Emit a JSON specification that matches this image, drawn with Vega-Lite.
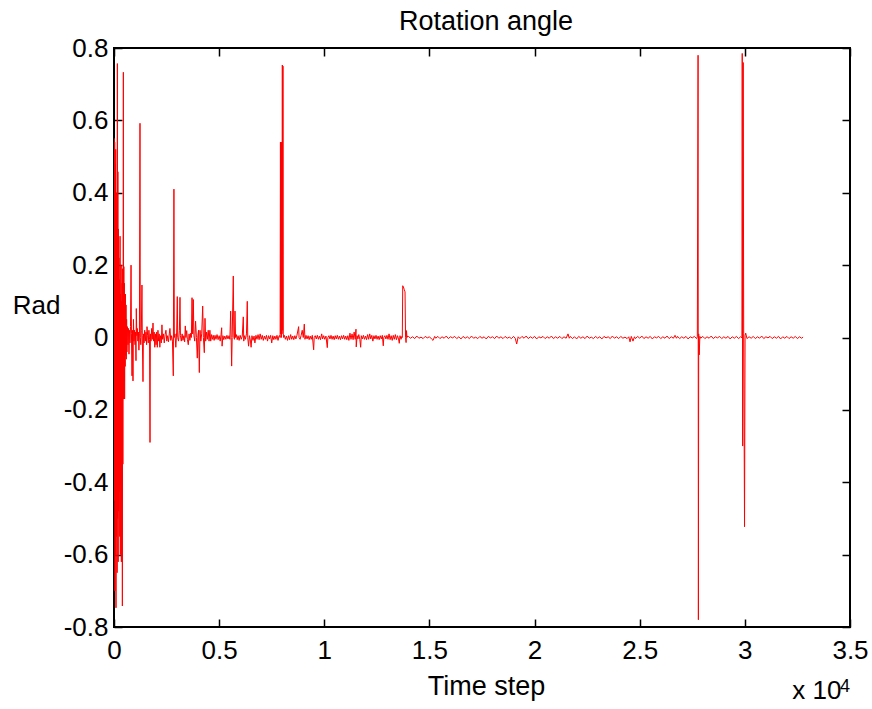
{
"$schema": "https://vega.github.io/schema/vega-lite/v6.json",
"width": 736, "height": 579,
"autosize": {"type": "none"},
"padding": {"left": 114, "top": 48, "right": 22, "bottom": 82},
"background": "white",
"config": {
  "view": {"stroke": "black", "strokeWidth": 2},
  "axis": {"domain": false, "tickColor": "black", "tickWidth": 1.5, "grid": false, "labelFont": "Liberation Sans", "labelFontSize": 26, "labelColor": "black", "titleFont": "Liberation Sans", "titleFontSize": 26, "titleFontWeight": "normal", "titleColor": "black"},
  "text": {"font": "Liberation Sans"}
},
"data": {"values": [
{"t":0,"v":0},{"t":8,"v":0.55},{"t":20,"v":-0.45},{"t":32,"v":0.54},{"t":45,"v":-0.70},{"t":58,"v":0.48},{"t":70,"v":-0.60},{"t":82,"v":0.52},{"t":95,"v":-0.747},{"t":108,"v":0.40},{"t":120,"v":-0.55},{"t":135,"v":0.35},{"t":148,"v":-0.65},{"t":160,"v":0.757},{"t":172,"v":-0.50},{"t":185,"v":0.458},{"t":198,"v":-0.62},{"t":210,"v":0.30},{"t":222,"v":-0.48},{"t":235,"v":0.22},{"t":250,"v":-0.426},{"t":262,"v":0.16},{"t":275,"v":-0.55},{"t":288,"v":0.28},{"t":300,"v":-0.60},{"t":312,"v":0.12},{"t":325,"v":-0.40},{"t":338,"v":0.20},{"t":350,"v":-0.62},{"t":362,"v":0.10},{"t":375,"v":-0.45},{"t":388,"v":0.15},{"t":398,"v":-0.742},{"t":410,"v":0.19},{"t":422,"v":-0.35},{"t":434,"v":0.10},{"t":445,"v":0.733},{"t":456,"v":-0.17},{"t":468,"v":0.196},{"t":480,"v":-0.12},{"t":492,"v":0.15},{"t":505,"v":-0.17},{"t":518,"v":0.09},{"t":530,"v":-0.08},{"t":545,"v":0.12},{"t":560,"v":-0.05},{"t":572,"v":0.09},{"t":585,"v":-0.06},{"t":600,"v":0.05},{"t":615,"v":-0.04},
{"t":640,"v":0.03},{"t":665,"v":-0.02},{"t":690,"v":0.025},{"t":713,"v":-0.046},{"t":735,"v":0.02},{"t":760,"v":-0.015},{"t":785,"v":0.03},{"t":810,"v":0.20},{"t":830,"v":0.01},{"t":856,"v":-0.106},{"t":880,"v":0.02},{"t":903,"v":-0.12},{"t":925,"v":0.05},{"t":950,"v":-0.01},{"t":975,"v":0.02},{"t":1000,"v":-0.02},{"t":1025,"v":0.015},{"t":1046,"v":-0.064},{"t":1060,"v":0.08},{"t":1085,"v":0.005},{"t":1110,"v":0.025},{"t":1135,"v":-0.01},{"t":1160,"v":0.015},{"t":1185,"v":-0.035},{"t":1210,"v":0.01},{"t":1236,"v":0.592},{"t":1250,"v":0.0},{"t":1275,"v":-0.02},{"t":1300,"v":0.02},{"t":1330,"v":0.145},{"t":1345,"v":0.005},{"t":1379,"v":-0.122},{"t":1400,"v":0.01},{"t":1430,"v":-0.015},{"t":1460,"v":0.02},{"t":1490,"v":-0.01},{"t":1520,"v":0.015},{"t":1550,"v":-0.02},{"t":1570,"v":0.03},{"t":1600,"v":0.005},{"t":1630,"v":-0.015},{"t":1660,"v":0.02},{"t":1690,"v":-0.005},{"t":1712,"v":-0.29},{"t":1730,"v":0.01},{"t":1760,"v":-0.01},{"t":1790,"v":0.025},{"t":1820,"v":-0.005},{"t":1855,"v":0.04},{"t":1880,"v":-0.01},{"t":1910,"v":0.015},{"t":1940,"v":-0.027},{"t":1970,"v":0.01},{"t":2000,"v":-0.02},{"t":2030,"v":0.015},{"t":2060,"v":-0.027},{"t":2090,"v":0.02},{"t":2120,"v":-0.01},{"t":2150,"v":0.01},{"t":2180,"v":-0.027},{"t":2210,"v":0.005},{"t":2250,"v":-0.015},{"t":2280,"v":0.035},{"t":2310,"v":-0.005},{"t":2350,"v":0.01},{"t":2390,"v":-0.015},{"t":2430,"v":0.008},{"t":2470,"v":0.02},{"t":2510,"v":-0.01},{"t":2550,"v":0.005},{"t":2590,"v":-0.012},{"t":2630,"v":0.01},{"t":2660,"v":0.025},{"t":2700,"v":-0.008},{"t":2740,"v":0.005},{"t":2780,"v":-0.01},{"t":2820,"v":-0.106},{"t":2850,"v":0.41},{"t":2870,"v":0.0},{"t":2900,"v":0.01},{"t":2940,"v":-0.027},{"t":2980,"v":0.015},{"t":3010,"v":0.113},{"t":3030,"v":0.0},{"t":3070,"v":-0.01},{"t":3110,"v":0.02},{"t":3138,"v":0.111},{"t":3160,"v":0.005},{"t":3200,"v":-0.01},{"t":3240,"v":0.01},{"t":3280,"v":-0.008},{"t":3320,"v":0.005},{"t":3360,"v":-0.012},{"t":3390,"v":0.032},{"t":3420,"v":0.0},{"t":3457,"v":0.019},{"t":3490,"v":-0.005},{"t":3533,"v":-0.02},{"t":3570,"v":0.01},{"t":3610,"v":-0.008},{"t":3650,"v":0.012},{"t":3680,"v":0.0},{"t":3710,"v":0.11},{"t":3740,"v":0.01},{"t":3771,"v":0.105},{"t":3800,"v":0.005},{"t":3840,"v":-0.01},{"t":3880,"v":0.045},{"t":3920,"v":0.0},{"t":3961,"v":-0.057},{"t":3990,"v":0.005},{"t":4020,"v":0.02},{"t":4057,"v":-0.097},{"t":4090,"v":0.02},{"t":4130,"v":-0.01},{"t":4170,"v":0.01},{"t":4218,"v":0.087},{"t":4250,"v":0.0},{"t":4295,"v":-0.042},{"t":4327,"v":0.053},{"t":4360,"v":-0.01},{"t":4400,"v":0.015},{"t":4440,"v":-0.005},{"t":4480,"v":0.02},{"t":4520,"v":-0.01},{"t":4560,"v":0.02},{"t":4600,"v":-0.01},{"t":4640,"v":0.008},{"t":4680,"v":-0.005},{"t":4720,"v":0.006},{"t":4760,"v":-0.008},{"t":4803,"v":0.006},{"t":4850,"v":-0.005},{"t":4900,"v":0.008},{"t":4950,"v":-0.006},{"t":5000,"v":0.005},{"t":5050,"v":-0.01},{"t":5090,"v":0.008},{"t":5121,"v":0.027},{"t":5140,"v":-0.024},{"t":5180,"v":0.005},{"t":5220,"v":-0.006},{"t":5270,"v":0.004},{"t":5320,"v":-0.005},{"t":5370,"v":0.006},{"t":5420,"v":-0.004},{"t":5470,"v":0.005},{"t":5510,"v":-0.005},{"t":5548,"v":0.073},{"t":5570,"v":0.0},{"t":5595,"v":-0.079},{"t":5620,"v":0.0},{"t":5673,"v":0.17},{"t":5700,"v":0.0},{"t":5730,"v":-0.005},{"t":5754,"v":0.073},{"t":5780,"v":0.0},{"t":5820,"v":0.008},{"t":5860,"v":-0.006},{"t":5900,"v":0.005},{"t":5950,"v":-0.008},{"t":6000,"v":0.006},{"t":6050,"v":-0.005},{"t":6100,"v":0.004},{"t":6148,"v":0.057},{"t":6170,"v":-0.01},{"t":6210,"v":0.005},{"t":6250,"v":-0.005},{"t":6300,"v":0.01},{"t":6338,"v":0.1},{"t":6360,"v":0.0},{"t":6400,"v":-0.024},{"t":6440,"v":0.005},{"t":6490,"v":-0.01},{"t":6520,"v":-0.027},{"t":6560,"v":0.005},{"t":6610,"v":-0.008},{"t":6660,"v":0.004},{"t":6700,"v":-0.015},{"t":6750,"v":0.006},{"t":6800,"v":-0.005},{"t":6850,"v":0.008},{"t":6900,"v":-0.006},{"t":6950,"v":0.01},{"t":7000,"v":-0.005},{"t":7050,"v":0.006},{"t":7100,"v":-0.008},{"t":7150,"v":0.004},{"t":7200,"v":-0.005},{"t":7250,"v":0.006},{"t":7300,"v":-0.01},{"t":7350,"v":0.005},{"t":7400,"v":-0.004},{"t":7450,"v":0.006},{"t":7500,"v":-0.015},{"t":7550,"v":0.005},{"t":7600,"v":-0.006},{"t":7650,"v":0.004},{"t":7700,"v":-0.005},{"t":7750,"v":0.006},{"t":7800,"v":-0.008},{"t":7850,"v":0.005},{"t":7880,"v":0.005},
{"t":7900,"v":0.0},{"t":7915,"v":0.54},{"t":7930,"v":0.01},{"t":7945,"v":0.537},{"t":7960,"v":0.0},{"t":7975,"v":0.54},{"t":7990,"v":0.01},{"t":8005,"v":0.753},{"t":8020,"v":0.02},{"t":8035,"v":0.75},{"t":8050,"v":0.01},{"t":8065,"v":0.0},
{"t":8100,"v":0.006},{"t":8150,"v":-0.005},{"t":8200,"v":0.004},{"t":8250,"v":-0.008},{"t":8300,"v":0.005},{"t":8350,"v":-0.006},{"t":8400,"v":0.008},{"t":8450,"v":-0.005},{"t":8500,"v":0.004},{"t":8550,"v":-0.006},{"t":8600,"v":0.005},{"t":8650,"v":-0.004},{"t":8700,"v":0.006},{"t":8780,"v":0.03},{"t":8800,"v":0.0},{"t":8850,"v":-0.005},{"t":8900,"v":0.006},{"t":8950,"v":0.02},{"t":9000,"v":0.0},{"t":9050,"v":0.037},{"t":9080,"v":-0.005},{"t":9130,"v":0.006},{"t":9180,"v":-0.004},{"t":9230,"v":0.005},{"t":9280,"v":-0.006},{"t":9330,"v":0.004},{"t":9380,"v":-0.005},{"t":9430,"v":0.006},{"t":9495,"v":-0.034},{"t":9520,"v":0.0},{"t":9570,"v":0.005},{"t":9620,"v":-0.004},{"t":9670,"v":0.006},{"t":9720,"v":-0.005},{"t":9770,"v":0.004},{"t":9820,"v":-0.006},{"t":9876,"v":0.01},{"t":9920,"v":-0.004},{"t":9970,"v":0.005},{"t":10020,"v":-0.005},{"t":10080,"v":0.004},{"t":10143,"v":-0.028},{"t":10170,"v":0.0},{"t":10220,"v":0.005},{"t":10270,"v":-0.004},{"t":10320,"v":0.006},{"t":10370,"v":-0.005},{"t":10420,"v":0.004},{"t":10470,"v":-0.006},{"t":10520,"v":0.005},{"t":10570,"v":-0.004},{"t":10620,"v":0.006},{"t":10670,"v":-0.005},{"t":10720,"v":0.004},{"t":10770,"v":-0.006},{"t":10820,"v":0.005},{"t":10870,"v":-0.004},{"t":10920,"v":0.006},{"t":10970,"v":-0.005},{"t":11020,"v":0.004},{"t":11070,"v":-0.006},{"t":11120,"v":0.005},{"t":11170,"v":-0.008},{"t":11220,"v":0.012},{"t":11270,"v":-0.005},{"t":11320,"v":0.01},{"t":11370,"v":-0.006},{"t":11420,"v":0.015},{"t":11470,"v":-0.005},{"t":11507,"v":0.023},{"t":11520,"v":-0.026},{"t":11560,"v":0.005},{"t":11600,"v":-0.004},{"t":11640,"v":0.008},{"t":11690,"v":-0.005},{"t":11730,"v":-0.027},{"t":11760,"v":0.005},{"t":11810,"v":-0.004},{"t":11860,"v":0.006},{"t":11910,"v":-0.005},{"t":11960,"v":0.004},{"t":12010,"v":-0.006},{"t":12060,"v":0.008},{"t":12110,"v":-0.005},{"t":12160,"v":0.01},{"t":12210,"v":-0.004},{"t":12260,"v":0.006},{"t":12310,"v":-0.01},{"t":12360,"v":0.005},{"t":12410,"v":-0.004},{"t":12460,"v":0.006},{"t":12510,"v":-0.005},{"t":12560,"v":0.004},{"t":12610,"v":-0.006},{"t":12660,"v":0.005},{"t":12710,"v":-0.004},{"t":12760,"v":0.006},{"t":12805,"v":-0.023},{"t":12830,"v":0.0},{"t":12880,"v":0.005},{"t":12930,"v":-0.004},{"t":12980,"v":0.006},{"t":13030,"v":-0.005},{"t":13080,"v":0.01},{"t":13130,"v":-0.006},{"t":13180,"v":0.005},{"t":13230,"v":-0.008},{"t":13280,"v":0.006},{"t":13330,"v":-0.005},{"t":13380,"v":0.008},{"t":13430,"v":-0.006},{"t":13480,"v":0.005},{"t":13530,"v":-0.004},{"t":13566,"v":-0.016},{"t":13600,"v":0.005},{"t":13650,"v":-0.005},{"t":13690,"v":0.003},{"t":13710,"v":0.0},{"t":13730,"v":0.143},{"t":13760,"v":0.14},{"t":13800,"v":0.133},{"t":13840,"v":0.126},{"t":13865,"v":0.0},{"t":13890,"v":-0.014},{"t":13910,"v":0.019},{"t":13930,"v":0.0},{"t":13970,"v":0.004},
{"t":14000,"v":0.003},{"t":14100,"v":-0.002},{"t":14200,"v":0.002},{"t":14300,"v":-0.003},{"t":14400,"v":0.004},{"t":14500,"v":-0.002},{"t":14600,"v":0.001},{"t":14700,"v":-0.003},{"t":14800,"v":0.003},{"t":14900,"v":-0.001},{"t":15000,"v":0.002},{"t":15100,"v":-0.004},{"t":15170,"v":-0.008},{"t":15250,"v":0.003},{"t":15300,"v":-0.002},{"t":15400,"v":0.003},{"t":15500,"v":-0.003},{"t":15600,"v":0.002},{"t":15700,"v":-0.002},{"t":15800,"v":0.004},{"t":15900,"v":-0.003},{"t":16000,"v":0.002},{"t":16100,"v":-0.001},{"t":16200,"v":0.003},{"t":16300,"v":-0.003},{"t":16400,"v":0.002},{"t":16500,"v":-0.004},{"t":16600,"v":0.003},{"t":16700,"v":-0.002},{"t":16800,"v":0.002},{"t":16900,"v":-0.003},{"t":17000,"v":0.004},{"t":17100,"v":-0.002},{"t":17200,"v":0.001},{"t":17300,"v":-0.003},{"t":17400,"v":0.003},{"t":17500,"v":-0.002},{"t":17600,"v":0.002},{"t":17700,"v":-0.004},{"t":17800,"v":0.003},{"t":17900,"v":-0.001},{"t":18000,"v":0.002},{"t":18100,"v":-0.003},{"t":18200,"v":0.004},{"t":18300,"v":-0.002},{"t":18400,"v":0.002},{"t":18500,"v":-0.003},{"t":18600,"v":0.003},{"t":18700,"v":-0.002},{"t":18800,"v":0.001},{"t":18900,"v":-0.003},{"t":19000,"v":0.003},{"t":19080,"v":-0.002},{"t":19150,"v":-0.018},{"t":19220,"v":0.002},{"t":19300,"v":-0.003},{"t":19400,"v":0.003},{"t":19500,"v":-0.002},{"t":19600,"v":0.004},{"t":19700,"v":-0.003},{"t":19800,"v":0.002},{"t":19900,"v":-0.002},{"t":20000,"v":0.003},{"t":20100,"v":-0.004},{"t":20200,"v":0.002},{"t":20300,"v":-0.001},{"t":20400,"v":0.003},{"t":20500,"v":-0.003},{"t":20600,"v":0.002},{"t":20700,"v":-0.002},{"t":20800,"v":0.004},{"t":20900,"v":-0.003},{"t":21000,"v":0.002},{"t":21100,"v":-0.002},{"t":21200,"v":0.003},{"t":21300,"v":-0.003},{"t":21400,"v":0.002},{"t":21500,"v":-0.002},{"t":21590,"v":0.01},{"t":21650,"v":-0.002},{"t":21700,"v":0.003},{"t":21800,"v":-0.003},{"t":21900,"v":0.002},{"t":22000,"v":-0.004},{"t":22100,"v":0.003},{"t":22200,"v":-0.002},{"t":22300,"v":0.002},{"t":22400,"v":-0.003},{"t":22500,"v":0.004},{"t":22600,"v":-0.002},{"t":22700,"v":0.001},{"t":22800,"v":-0.003},{"t":22900,"v":0.003},{"t":23000,"v":-0.002},{"t":23100,"v":0.002},{"t":23200,"v":-0.004},{"t":23300,"v":0.003},{"t":23400,"v":-0.001},{"t":23500,"v":0.002},{"t":23600,"v":-0.003},{"t":23700,"v":0.004},{"t":23800,"v":-0.002},{"t":23900,"v":0.002},{"t":24000,"v":-0.003},{"t":24100,"v":0.003},{"t":24200,"v":-0.002},{"t":24300,"v":0.001},{"t":24400,"v":-0.003},{"t":24480,"v":0.002},{"t":24540,"v":-0.012},{"t":24600,"v":0.003},{"t":24680,"v":-0.01},{"t":24750,"v":0.002},{"t":24800,"v":-0.003},{"t":24900,"v":0.003},{"t":25000,"v":-0.002},{"t":25100,"v":0.004},{"t":25200,"v":-0.003},{"t":25300,"v":0.002},{"t":25400,"v":-0.002},{"t":25500,"v":0.003},{"t":25600,"v":-0.004},{"t":25700,"v":0.002},{"t":25800,"v":-0.001},{"t":25900,"v":0.003},{"t":26000,"v":-0.003},{"t":26100,"v":0.002},{"t":26200,"v":-0.002},{"t":26300,"v":0.004},{"t":26400,"v":-0.003},{"t":26500,"v":0.002},{"t":26600,"v":-0.002},{"t":26680,"v":0.006},{"t":26750,"v":-0.002},{"t":26800,"v":0.003},{"t":26900,"v":-0.003},{"t":27000,"v":0.002},{"t":27100,"v":-0.002},{"t":27200,"v":0.003},{"t":27300,"v":-0.004},{"t":27400,"v":0.002},{"t":27500,"v":-0.001},{"t":27600,"v":0.003},{"t":27700,"v":-0.003},{"t":27740,"v":0.002},{"t":27775,"v":0.78},{"t":27790,"v":-0.78},{"t":27805,"v":0.01},{"t":27830,"v":-0.048},{"t":27860,"v":0.003},
{"t":27900,"v":-0.002},{"t":28000,"v":0.003},{"t":28100,"v":-0.003},{"t":28200,"v":0.002},{"t":28300,"v":-0.002},{"t":28400,"v":0.004},{"t":28500,"v":-0.003},{"t":28600,"v":0.002},{"t":28700,"v":-0.001},{"t":28800,"v":0.003},{"t":28900,"v":-0.003},{"t":29000,"v":0.002},{"t":29100,"v":-0.002},{"t":29200,"v":0.003},{"t":29300,"v":-0.004},{"t":29400,"v":0.002},{"t":29500,"v":-0.002},{"t":29600,"v":0.003},{"t":29700,"v":-0.003},{"t":29800,"v":0.002},{"t":29860,"v":-0.001},{"t":29875,"v":0.785},{"t":29895,"v":-0.30},{"t":29920,"v":0.76},{"t":29945,"v":0.01},{"t":29985,"v":-0.523},{"t":30010,"v":0.005},{"t":30040,"v":0.012},
{"t":30100,"v":-0.003},{"t":30200,"v":0.002},{"t":30300,"v":-0.002},{"t":30400,"v":0.003},{"t":30500,"v":-0.003},{"t":30600,"v":0.002},{"t":30700,"v":-0.002},{"t":30800,"v":0.004},{"t":30900,"v":-0.003},{"t":31000,"v":0.002},{"t":31100,"v":-0.001},{"t":31200,"v":0.003},{"t":31300,"v":-0.003},{"t":31400,"v":0.002},{"t":31500,"v":-0.002},{"t":31600,"v":0.003},{"t":31700,"v":-0.004},{"t":31800,"v":0.002},{"t":31900,"v":-0.002},{"t":32000,"v":0.003},{"t":32100,"v":-0.003},{"t":32200,"v":0.002},{"t":32300,"v":-0.002},{"t":32400,"v":0.003},{"t":32500,"v":-0.003},{"t":32600,"v":0.002},{"t":32700,"v":-0.002},{"t":32768,"v":0.001}
]},
"layer": [
  {
    "mark": {"type": "line", "color": "#ff0000", "strokeWidth": 1, "clip": true},
    "encoding": {
      "x": {"field": "t", "type": "quantitative",
        "scale": {"domain": [0, 35000], "nice": false, "zero": false},
        "axis": {"orient": "bottom", "values": [0, 5000, 10000, 15000, 20000, 25000, 30000, 35000], "labelExpr": "'' + datum.value/10000", "ticks": false, "labelPadding": 10, "labelFlush": false, "labelOverlap": false, "title": "Time step", "titleFontSize": 27, "titleX": 372, "titleY": 67, "titleBaseline": "alphabetic", "titleAlign": "center"}},
      "y": {"field": "v", "type": "quantitative",
        "scale": {"domain": [-0.8, 0.8], "nice": false, "zero": false},
        "axis": {"orient": "left", "values": [-0.8, -0.6, -0.4, -0.2, 0, 0.2, 0.4, 0.6, 0.8], "labelExpr": "'' + datum.value", "ticks": false, "labelPadding": 6, "labelFlush": false, "labelOverlap": false, "title": "Rad", "titleAngle": 0, "titleX": -78, "titleY": 257, "titleAlign": "center", "titleBaseline": "middle"}}
    }
  },
  {
    "data": {"values": [{}]},
    "mark": {"type": "point", "opacity": 0},
    "encoding": {
      "x": {"datum": 0, "type": "quantitative", "scale": {"domain": [0, 35000], "nice": false, "zero": false},
        "axis": {"orient": "top", "offset": -8, "values": [0, 5000, 10000, 15000, 20000, 25000, 30000, 35000], "labels": false, "ticks": true, "tickSize": 8, "title": "Rotation angle", "titleFontSize": 27, "titleX": 371.5, "titleY": -26.7, "titleAlign": "center", "titleBaseline": "alphabetic", "titleAngle": 0}},
      "y": {"datum": 0, "type": "quantitative", "scale": {"domain": [-0.8, 0.8], "nice": false, "zero": false},
        "axis": {"orient": "left", "offset": -8, "values": [-0.8, -0.6, -0.4, -0.2, 0, 0.2, 0.4, 0.6, 0.8], "labels": false, "ticks": true, "tickSize": 8, "title": null}}
    }
  },
  {
    "data": {"values": [{}]},
    "mark": {"type": "text", "text": "x 10", "align": "right", "baseline": "alphabetic", "dx": -8.5, "dy": 72, "fontSize": 26, "color": "black", "font": "Liberation Sans"},
    "encoding": {
      "x": {"datum": 35000, "type": "quantitative",
        "axis": {"orient": "bottom", "offset": -8, "values": [0, 5000, 10000, 15000, 20000, 25000, 30000, 35000], "labels": false, "ticks": true, "tickSize": 8, "title": null}},
      "y": {"datum": -0.8, "type": "quantitative",
        "axis": {"orient": "right", "offset": -8, "values": [-0.8, -0.6, -0.4, -0.2, 0, 0.2, 0.4, 0.6, 0.8], "labels": false, "ticks": true, "tickSize": 8, "title": null}}
    }
  },
  {
    "data": {"values": [{}]},
    "mark": {"type": "text", "text": "4", "align": "right", "baseline": "alphabetic", "dx": 0, "dy": 65, "fontSize": 18, "color": "black", "font": "Liberation Sans"},
    "encoding": {
      "x": {"datum": 35000, "type": "quantitative", "axis": null},
      "y": {"datum": -0.8, "type": "quantitative", "axis": null}
    }
  }
],
"resolve": {"axis": {"x": "independent", "y": "independent"}}
}
